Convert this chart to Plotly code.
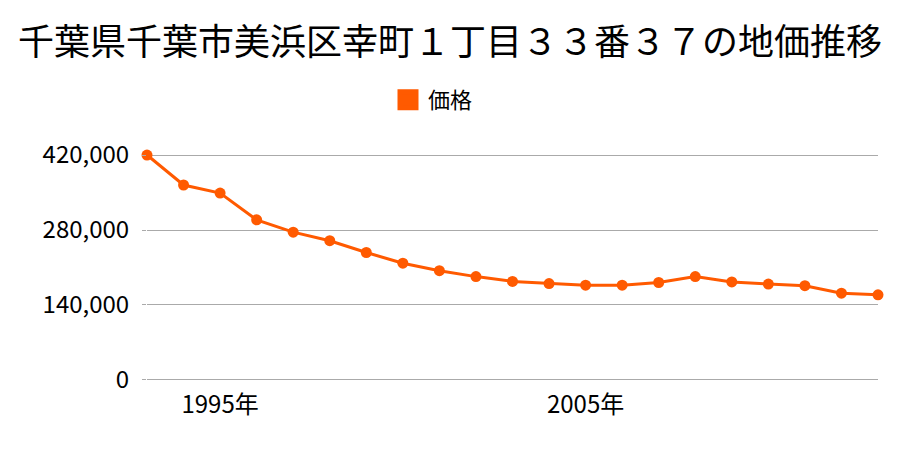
import plotly.graph_objects as go

years = list(range(1993, 2014))
prices = [420000, 364000, 349000, 299000, 276000, 260000, 238000, 218000, 204000,
          193000, 184000, 180000, 177000, 177000, 182000, 193000, 183000, 179000,
          176000, 162000, 159000]
y_ticks = [0, 140000, 280000, 420000]
y_tick_labels = ["0", "140,000", "280,000", "420,000"]
x_ticks = [1995, 2005]
x_tick_labels = ["1995年", "2005年"]

title = "千葉県千葉市美浜区幸町１丁目３３番３７の地価推移"
series_name = "価格"
color = "#ff5a00"
font = "Noto Sans CJK JP"

fig = go.Figure()
fig.add_trace(go.Scatter(
    x=years, y=prices, name=series_name, mode="lines+markers",
    line=dict(color=color, width=3),
    marker=dict(color=color, size=11),
    cliponaxis=False, showlegend=False,
))
fig.add_trace(go.Scatter(
    x=[None], y=[None], name=series_name, mode="markers",
    marker=dict(color=color, size=22, symbol="square", line=dict(color=color, width=7)),
    showlegend=True,
))

fig.update_layout(
    width=900, height=450,
    paper_bgcolor="white", plot_bgcolor="white",
    margin=dict(l=147, r=22, t=151, b=66),
    font=dict(family=font, color="#000"),
    title=dict(text=title, x=0.5, xanchor="center", y=1 - 42 / 450, yanchor="middle",
               font=dict(size=36, family=font, color="#000")),
    showlegend=True,
    legend=dict(orientation="h", x=388 / 900, xanchor="left", xref="container",
                y=1 - 100 / 450, yref="container",
                yanchor="middle", font=dict(size=22, family=font), itemsizing="trace",
                bgcolor="rgba(0,0,0,0)"),
    xaxis=dict(range=[1993, 2013], tickvals=x_ticks, ticktext=x_tick_labels,
               showgrid=False, zeroline=False, showline=False, ticks="",
               tickfont=dict(size=24, family=font), ticklabelstandoff=4),
    yaxis=dict(range=[-7500, 427500], tickvals=y_ticks, ticktext=y_tick_labels,
               showgrid=True, gridcolor="#aaaaaa", gridwidth=1, zeroline=False,
               showline=False, ticks="outside", ticklen=4, tickcolor="#aaaaaa",
               tickfont=dict(size=24, family=font), ticklabelstandoff=8),
)

fig.write_html("out.html")
